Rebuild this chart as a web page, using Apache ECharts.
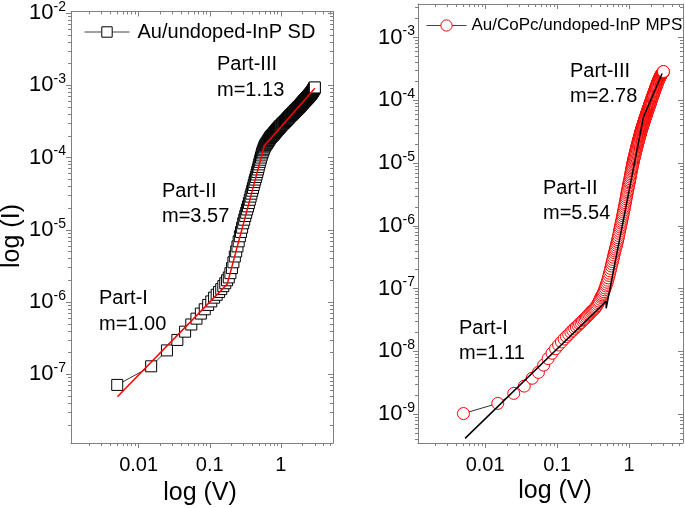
<!DOCTYPE html>
<html><head><meta charset="utf-8">
<script src="https://cdn.jsdelivr.net/npm/echarts@6/dist/echarts.min.js"></script>
<style>html,body{margin:0;padding:0;background:#fff}#c{width:685px;height:508px}</style>
</head><body><div id="c"></div>
<script>
// ---------- data ----------
var voltageSD = [0.005,0.015,0.025,0.035,0.045,0.055,0.065,0.075,0.085,0.095,
0.105,0.115,0.125,0.135,0.145,0.155,0.165,0.175,0.185,0.195,
0.205,0.215,0.225,0.235,0.245,0.255,0.265,0.275,0.285,0.295,
0.305,0.315,0.325,0.335,0.345,0.355,0.365,0.375,0.385,0.395,
0.405,0.415,0.425,0.435,0.445,0.455,0.465,0.475,0.485,0.495,
0.505,0.515,0.525,0.535,0.545,0.555,0.565,0.575,0.585,0.595,
0.605,0.615,0.625,0.635,0.645,0.655,0.665,0.675,0.685,0.695,
0.705,0.715,0.725,0.735,0.745,0.755,0.765,0.775,0.785,0.795,
0.805,0.815,0.825,0.835,0.845,0.855,0.865,0.875,0.885,0.895,
0.905,0.915,0.925,0.935,0.945,0.955,0.965,0.975,0.985,0.995,
1.02,1.04,1.06,1.08,1.10,1.12,1.14,1.16,1.18,1.20,
1.22,1.24,1.26,1.28,1.30,1.32,1.34,1.36,1.38,1.40,
1.42,1.44,1.46,1.48,1.50,1.52,1.54,1.56,1.58,1.60,
1.62,1.64,1.66,1.68,1.70,1.72,1.74,1.76,1.78,1.80,
1.82,1.84,1.86,1.88,1.90,1.92,1.94,1.96,1.98,2.00,
2.02,2.04,2.06,2.08,2.10,2.12,2.14,2.16,2.18,2.20,
2.22,2.24,2.26,2.28,2.30,2.32,2.34,2.36,2.38,2.40,
2.42,2.44,2.46,2.48,2.50,2.52,2.54,2.56,2.58,2.60,
2.62,2.64,2.66,2.68,2.70,2.72,2.74,2.76,2.78,2.80,
2.82,2.84,2.86,2.88,2.90,2.92,2.94,2.96,2.98,3.00];
var currentSD = [7.13e-8,1.29e-7,2.14e-7,2.99e-7,3.89e-7,4.89e-7,5.89e-7,6.92e-7,7.94e-7,9.12e-7,
1.02e-6,1.15e-6,1.26e-6,1.38e-6,1.51e-6,1.66e-6,1.82e-6,2.00e-6,2.19e-6,2.51e-6,
2.95e-6,3.55e-6,4.27e-6,5.01e-6,5.89e-6,6.92e-6,8.13e-6,9.33e-6,1.07e-5,1.23e-5,
1.38e-5,1.55e-5,1.72e-5,1.91e-5,2.11e-5,2.34e-5,2.60e-5,2.88e-5,3.16e-5,3.47e-5,
3.80e-5,4.17e-5,4.57e-5,4.95e-5,5.37e-5,5.82e-5,6.31e-5,6.84e-5,7.41e-5,8.04e-5,
8.71e-5,9.33e-5,1.00e-4,1.07e-4,1.14e-4,1.20e-4,1.26e-4,1.32e-4,1.38e-4,1.43e-4,
1.48e-4,1.51e-4,1.55e-4,1.58e-4,1.62e-4,1.66e-4,1.70e-4,1.74e-4,1.78e-4,1.82e-4,
1.86e-4,1.91e-4,1.93e-4,1.95e-4,2.00e-4,2.02e-4,2.04e-4,2.07e-4,2.09e-4,2.14e-4,
2.16e-4,2.19e-4,2.24e-4,2.26e-4,2.29e-4,2.32e-4,2.34e-4,2.40e-4,2.43e-4,2.45e-4,
2.48e-4,2.51e-4,2.54e-4,2.57e-4,2.60e-4,2.63e-4,2.66e-4,2.69e-4,2.72e-4,2.75e-4,
2.82e-4,2.88e-4,2.94e-4,2.99e-4,3.04e-4,3.09e-4,3.15e-4,3.20e-4,3.26e-4,3.31e-4,
3.37e-4,3.43e-4,3.49e-4,3.55e-4,3.61e-4,3.67e-4,3.74e-4,3.80e-4,3.85e-4,3.89e-4,
3.95e-4,4.00e-4,4.06e-4,4.11e-4,4.17e-4,4.22e-4,4.28e-4,4.34e-4,4.40e-4,4.45e-4,
4.51e-4,4.57e-4,4.63e-4,4.68e-4,4.74e-4,4.79e-4,4.85e-4,4.90e-4,4.96e-4,5.01e-4,
5.07e-4,5.13e-4,5.19e-4,5.25e-4,5.31e-4,5.37e-4,5.43e-4,5.50e-4,5.56e-4,5.62e-4,
5.69e-4,5.75e-4,5.82e-4,5.89e-4,5.96e-4,6.03e-4,6.08e-4,6.14e-4,6.20e-4,6.25e-4,
6.31e-4,6.37e-4,6.43e-4,6.49e-4,6.55e-4,6.61e-4,6.67e-4,6.73e-4,6.79e-4,6.85e-4,
6.91e-4,6.98e-4,7.04e-4,7.11e-4,7.17e-4,7.24e-4,7.31e-4,7.38e-4,7.45e-4,7.52e-4,
7.59e-4,7.66e-4,7.73e-4,7.80e-4,7.87e-4,7.94e-4,8.03e-4,8.13e-4,8.22e-4,8.32e-4,
8.41e-4,8.51e-4,8.61e-4,8.71e-4,8.81e-4,8.91e-4,9.01e-4,9.12e-4,9.22e-4,9.33e-4];

var voltageMPS = [0.005,0.015,0.025,0.035,0.045,0.055,0.065,0.075,0.085,0.095,
0.105,0.115,0.125,0.135,0.145,0.155,0.165,0.175,0.185,0.195,
0.205,0.215,0.225,0.235,0.245,0.255,0.265,0.275,0.285,0.295,
0.305,0.315,0.325,0.335,0.345,0.355,0.365,0.375,0.385,0.395,
0.405,0.415,0.425,0.435,0.445,0.455,0.465,0.475,0.485,0.495,
0.505,0.515,0.525,0.535,0.545,0.555,0.565,0.575,0.585,0.595,
0.605,0.615,0.625,0.635,0.645,0.655,0.665,0.675,0.685,0.695,
0.705,0.715,0.725,0.735,0.745,0.755,0.765,0.775,0.785,0.795,
0.805,0.815,0.825,0.835,0.845,0.855,0.865,0.875,0.885,0.895,
0.905,0.915,0.925,0.935,0.945,0.955,0.965,0.975,0.985,0.995,
1.005,1.015,1.025,1.035,1.045,1.055,1.065,1.075,1.085,1.095,
1.105,1.115,1.125,1.135,1.145,1.155,1.165,1.175,1.185,1.195,
1.205,1.215,1.225,1.235,1.245,1.255,1.265,1.275,1.285,1.295,
1.305,1.315,1.325,1.335,1.345,1.355,1.365,1.375,1.385,1.395,
1.405,1.415,1.425,1.435,1.445,1.455,1.465,1.475,1.485,1.495,
1.505,1.515,1.525,1.535,1.545,1.555,1.565,1.575,1.585,1.595,
1.605,1.615,1.625,1.635,1.645,1.655,1.665,1.675,1.685,1.695,
1.705,1.715,1.725,1.735,1.745,1.755,1.765,1.775,1.785,1.795,
1.805,1.815,1.825,1.835,1.845,1.855,1.865,1.875,1.885,1.895,
1.905,1.915,1.925,1.935,1.945,1.955,1.965,1.975,1.985,1.995,
2.02,2.04,2.06,2.08,2.10,2.12,2.14,2.16,2.18,2.20,
2.22,2.24,2.26,2.28,2.30,2.32,2.34,2.36,2.38,2.40,
2.42,2.44,2.46,2.48,2.50,2.52,2.54,2.56,2.58,2.60,
2.62,2.64,2.66,2.68,2.70,2.72,2.74,2.76,2.78,2.80,
2.82,2.84,2.86,2.88,2.90,2.92,2.94,2.96,2.98,3.00];
var currentMPS = [1.02e-9,1.48e-9,2.14e-9,2.79e-9,3.72e-9,4.62e-9,6.03e-9,7.67e-9,9.33e-9,1.10e-8,
1.26e-8,1.41e-8,1.57e-8,1.72e-8,1.86e-8,2.02e-8,2.16e-8,2.32e-8,2.45e-8,2.60e-8,
2.75e-8,2.88e-8,3.05e-8,3.20e-8,3.35e-8,3.51e-8,3.67e-8,3.85e-8,4.03e-8,4.22e-8,
4.37e-8,4.52e-8,4.68e-8,4.84e-8,5.07e-8,5.31e-8,5.62e-8,5.96e-8,6.31e-8,6.76e-8,
7.24e-8,7.59e-8,7.94e-8,8.41e-8,8.91e-8,9.55e-8,1.02e-7,1.10e-7,1.17e-7,1.26e-7,
1.36e-7,1.48e-7,1.62e-7,1.76e-7,1.91e-7,2.09e-7,2.29e-7,2.48e-7,2.69e-7,2.92e-7,
3.16e-7,3.43e-7,3.72e-7,3.98e-7,4.27e-7,4.57e-7,4.90e-7,5.25e-7,5.62e-7,6.03e-7,
6.46e-7,7.00e-7,7.59e-7,8.22e-7,8.91e-7,9.55e-7,1.02e-6,1.10e-6,1.17e-6,1.26e-6,
1.35e-6,1.45e-6,1.55e-6,1.66e-6,1.78e-6,1.91e-6,2.04e-6,2.19e-6,2.34e-6,2.51e-6,
2.69e-6,2.88e-6,3.09e-6,3.31e-6,3.51e-6,3.72e-6,3.98e-6,4.22e-6,4.47e-6,4.79e-6,
5.03e-6,5.29e-6,5.61e-6,5.98e-6,6.35e-6,6.73e-6,7.12e-6,7.54e-6,7.97e-6,8.39e-6,
8.84e-6,9.31e-6,9.79e-6,1.03e-5,1.07e-5,1.12e-5,1.17e-5,1.22e-5,1.27e-5,1.32e-5,
1.38e-5,1.43e-5,1.49e-5,1.54e-5,1.60e-5,1.66e-5,1.72e-5,1.79e-5,1.85e-5,1.92e-5,
1.98e-5,2.05e-5,2.12e-5,2.19e-5,2.26e-5,2.33e-5,2.41e-5,2.49e-5,2.57e-5,2.65e-5,
2.73e-5,2.81e-5,2.89e-5,2.98e-5,3.06e-5,3.15e-5,3.25e-5,3.34e-5,3.43e-5,3.51e-5,
3.59e-5,3.68e-5,3.76e-5,3.85e-5,3.94e-5,4.03e-5,4.12e-5,4.22e-5,4.32e-5,4.42e-5,
4.52e-5,4.63e-5,4.73e-5,4.84e-5,4.95e-5,5.06e-5,5.16e-5,5.26e-5,5.36e-5,5.47e-5,
5.58e-5,5.69e-5,5.81e-5,5.94e-5,6.06e-5,6.18e-5,6.30e-5,6.43e-5,6.56e-5,6.69e-5,
6.82e-5,6.94e-5,7.06e-5,7.18e-5,7.30e-5,7.43e-5,7.56e-5,7.69e-5,7.83e-5,7.97e-5,
8.11e-5,8.25e-5,8.39e-5,8.54e-5,8.68e-5,8.83e-5,8.99e-5,9.15e-5,9.31e-5,9.47e-5,
9.87e-5,1.02e-4,1.06e-4,1.10e-4,1.13e-4,1.16e-4,1.19e-4,1.23e-4,1.26e-4,1.30e-4,
1.34e-4,1.38e-4,1.42e-4,1.46e-4,1.50e-4,1.55e-4,1.59e-4,1.64e-4,1.68e-4,1.72e-4,
1.76e-4,1.80e-4,1.85e-4,1.91e-4,1.95e-4,2.00e-4,2.04e-4,2.09e-4,2.14e-4,2.19e-4,
2.22e-4,2.26e-4,2.30e-4,2.34e-4,2.38e-4,2.43e-4,2.47e-4,2.51e-4,2.54e-4,2.57e-4,
2.60e-4,2.63e-4,2.66e-4,2.69e-4,2.72e-4,2.75e-4,2.78e-4,2.82e-4,2.85e-4,2.88e-4];

// fitted power-law segments (Part-I, II, III)
var fitSD_V = [0.00503, 0.176, 0.583, 3.0];
var fitSD_I = [4.89e-8, 1.77e-6, 1.44e-4, 9.1e-4];
var fitMPS_V = [0.00527, 0.48, 0.48, 1.58, 2.87];
var fitMPS_I = [4.1e-10, 6.28e-8, 4.86e-8, 5.4e-5, 2.67e-4];

// tick values and labels
var xTickValues = [0.01, 0.1, 1];
var xTickLabels = ['0.01', '0.1', '1'];
var yTickValuesSD = [1e-7, 1e-6, 1e-5, 1e-4, 1e-3, 1e-2];
var yTickValuesMPS = [1e-9, 1e-8, 1e-7, 1e-6, 1e-5, 1e-4, 1e-3];

var seriesNames = ['Au/undoped-InP SD', 'Au/CoPc/undoped-InP MPS'];
var partLabels = ['Part-I', 'Part-II', 'Part-III'];
var slopesSD = ['m=1.00', 'm=3.57', 'm=1.13'];
var slopesMPS = ['m=1.11', 'm=5.54', 'm=2.78'];

// ---------- chart ----------
var FONT = '"Liberation Sans", Arial, Helvetica, sans-serif';
var AX = '#808080';
function zip(a, b) { return a.map(function (v, i) { return [v, b[i]]; }); }
// logarithmic minor tick positions (2..9 x 10^k) inside [min, max]
function minorTicks(min, max) {
  var out = [];
  for (var e = -12; e <= 2; e++) for (var m = 2; m <= 9; m++) {
    var v = m * Math.pow(10, e);
    if (v > min && v < max) out.push(v);
  }
  return out;
}
function xFmt(v) {
  for (var i = 0; i < xTickValues.length; i++) {
    if (Math.abs(Math.log10(v) - Math.log10(xTickValues[i])) < 1e-6) return xTickLabels[i];
  }
  return '';
}
function yFmt(v) {
  var e = Math.round(Math.log10(v));
  return '{b|10}{s|' + e + '}';
}
var yRich = {
  b: { fontSize: 22, color: '#000', fontFamily: FONT },
  s: { fontSize: 14, color: '#000', fontFamily: FONT, padding: [0, 0, 12, 0] }
};

// kind: 'major' | 'minor'
function xAxisDef(grid, min, max, pos, kind) {
  var main = pos === 'bottom', major = kind === 'major';
  return {
    type: 'log', logBase: 10, gridIndex: grid, position: pos, min: min, max: max,
    splitLine: { show: false }, minorSplitLine: { show: false }, minorTick: { show: false },
    axisLine: { show: major, onZero: false, lineStyle: { color: AX, width: 1 } },
    axisTick: { show: true, inside: !main, length: major ? 5 : 3,
      customValues: major ? xTickValues : minorTicks(min, max), lineStyle: { color: AX } },
    axisLabel: (main && major) ? { show: true, margin: 12, customValues: xTickValues, formatter: xFmt,
      fontSize: 20, color: '#000', fontFamily: FONT } : { show: false }
  };
}
function yAxisDef(grid, min, max, pos, kind, ticks, margin) {
  var main = pos === 'left', major = kind === 'major';
  return {
    type: 'log', logBase: 10, gridIndex: grid, position: pos, min: min, max: max,
    splitLine: { show: false }, minorSplitLine: { show: false }, minorTick: { show: false },
    axisLine: { show: major, onZero: false, lineStyle: { color: AX, width: 1 } },
    axisTick: { show: true, inside: !main, length: major ? 5 : 3,
      customValues: major ? ticks : minorTicks(min, max), lineStyle: { color: AX } },
    axisLabel: (main && major) ? { show: true, margin: margin, customValues: ticks, formatter: yFmt,
      rich: yRich, color: '#000' } : { show: false }
  };
}

function txt(x, y, s, size) {
  return { type: 'text', x: x, y: y, silent: true,
    style: { text: s, font: (size || 20) + 'px ' + FONT, fill: '#000', align: 'left', verticalAlign: 'top' } };
}

var XL = [0.00112, 5.4], XR = [0.00117, 5.6];
var YL = [1.12e-8, 1.05e-2], YR = [3.46e-10, 3.43e-3];

var option = {
  animation: false,
  backgroundColor: '#fff',
  grid: [
    { left: 71, top: 5, width: 262, height: 438, containLabel: false },
    { left: 418, top: 4, width: 265, height: 439, containLabel: false }
  ],
  xAxis: [
    xAxisDef(0, XL[0], XL[1], 'bottom', 'major'),
    xAxisDef(0, XL[0], XL[1], 'top', 'major'),
    xAxisDef(1, XR[0], XR[1], 'bottom', 'major'),
    xAxisDef(1, XR[0], XR[1], 'top', 'major'),
    xAxisDef(0, XL[0], XL[1], 'bottom', 'minor'),
    xAxisDef(0, XL[0], XL[1], 'top', 'minor'),
    xAxisDef(1, XR[0], XR[1], 'bottom', 'minor'),
    xAxisDef(1, XR[0], XR[1], 'top', 'minor')
  ],
  yAxis: [
    yAxisDef(0, YL[0], YL[1], 'left', 'major', yTickValuesSD, 5),
    yAxisDef(0, YL[0], YL[1], 'right', 'major', yTickValuesSD, 5),
    yAxisDef(1, YR[0], YR[1], 'left', 'major', yTickValuesMPS, 3),
    yAxisDef(1, YR[0], YR[1], 'right', 'major', yTickValuesMPS, 3),
    yAxisDef(0, YL[0], YL[1], 'left', 'minor', yTickValuesSD, 5),
    yAxisDef(0, YL[0], YL[1], 'right', 'minor', yTickValuesSD, 5),
    yAxisDef(1, YR[0], YR[1], 'left', 'minor', yTickValuesMPS, 3),
    yAxisDef(1, YR[0], YR[1], 'right', 'minor', yTickValuesMPS, 3)
  ],
  legend: [
    { data: [seriesNames[0]], left: 79, top: 17, itemWidth: 45, itemHeight: 13, itemGap: 0, selectedMode: false,
      lineStyle: { width: 1, color: '#444' }, itemStyle: { borderWidth: 1 },
      textStyle: { fontSize: 20, color: '#000', fontFamily: FONT, padding: [0, 0, 0, 3] } },
    { data: [seriesNames[1]], left: 421, top: 12, itemWidth: 40, itemHeight: 14, itemGap: 0, selectedMode: false,
      lineStyle: { width: 1, color: '#444' }, itemStyle: { borderWidth: 1 },
      textStyle: { fontSize: 17, color: '#000', fontFamily: FONT } }
  ],
  series: [
    { name: seriesNames[0], type: 'line', xAxisIndex: 0, yAxisIndex: 0, data: zip(voltageSD, currentSD),
      symbol: 'rect', symbolSize: 11, showAllSymbol: true, z: 2,
      itemStyle: { color: '#fff', borderColor: '#000', borderWidth: 1 },
      lineStyle: { color: '#333', width: 1 }, emphasis: { disabled: true } },
    { name: 'fitSD', type: 'line', xAxisIndex: 0, yAxisIndex: 0, data: zip(fitSD_V, fitSD_I),
      symbol: 'none', z: 5, silent: true, lineStyle: { color: '#ff0000', width: 1.5 }, emphasis: { disabled: true } },
    { name: seriesNames[1], type: 'line', xAxisIndex: 2, yAxisIndex: 2, data: zip(voltageMPS, currentMPS),
      symbol: 'circle', symbolSize: 12, showAllSymbol: true, z: 2,
      itemStyle: { color: '#fff', borderColor: '#ff0000', borderWidth: 1 },
      lineStyle: { color: '#333', width: 1 }, emphasis: { disabled: true } },
    { name: 'fitMPS', type: 'line', xAxisIndex: 2, yAxisIndex: 2, data: zip(fitMPS_V, fitMPS_I),
      symbol: 'none', z: 5, silent: true, lineStyle: { color: '#000', width: 1.5 }, emphasis: { disabled: true } }
  ],
  graphic: [
    { type: 'text', x: 12, y: 236, rotation: Math.PI / 2, silent: true,
      style: { text: 'log (I)', font: '25px ' + FONT, fill: '#000', align: 'center', verticalAlign: 'middle' } },
    { type: 'text', x: 200, y: 493, silent: true,
      style: { text: 'log (V)', font: '25px ' + FONT, fill: '#000', align: 'center', verticalAlign: 'middle' } },
    { type: 'text', x: 555, y: 491, silent: true,
      style: { text: 'log (V)', font: '25px ' + FONT, fill: '#000', align: 'center', verticalAlign: 'middle' } },
    txt(217, 54, partLabels[2]), txt(217, 80, slopesSD[2]),
    txt(162, 181, partLabels[1]), txt(162, 206, slopesSD[1]),
    txt(99, 288, partLabels[0]), txt(99, 314, slopesSD[0]),
    txt(570, 61, partLabels[2]), txt(570, 86, slopesMPS[2]),
    txt(543, 178, partLabels[1]), txt(543, 203, slopesMPS[1]),
    txt(459, 318, partLabels[0]), txt(459, 343, slopesMPS[0])
  ]
};
var chart = echarts.init(document.getElementById('c'), null, { renderer: 'canvas' });
chart.setOption(option);
</script>
</body></html>
